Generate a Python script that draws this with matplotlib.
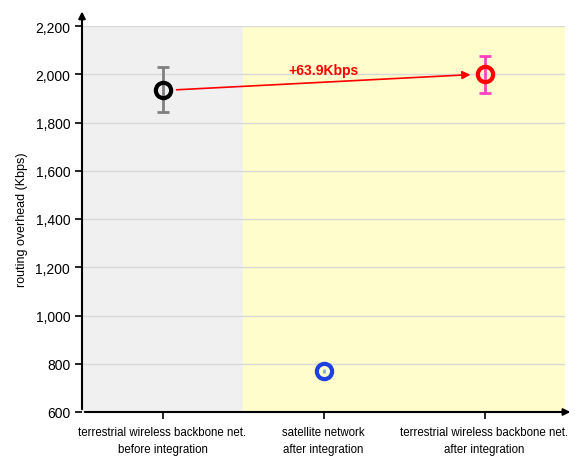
import matplotlib.pyplot as plt
from matplotlib.ticker import FuncFormatter

# data
categorias = ['terrestrial wireless backbone net.\nbefore integration',
              'satellite network\nafter integration',
              'terrestrial wireless backbone net.\nafter integration']
overhead = [1935, 770, 1999]
errores = [93, 8, 75]
colores_marca = ['black', '#1F3FE0', '#FF0000']
colores_error = ['#808080', '#7FA8F0', '#FF44BB']
diferencia = '+63.9Kbps'

plt.rcParams['font.family'] = ['Liberation Sans', 'DejaVu Sans']

fig = plt.figure(figsize=(5.87, 4.6), dpi=100)
ax = fig.add_axes([82 / 587, 47 / 460, (565 - 82) / 587, (413 - 27) / 460])

# fondos
ax.axvspan(-0.5, 0.5, color='#F0F0F0', zorder=0)
ax.axvspan(0.5, 2.5, color='#FFFDCC', zorder=0)

ax.set_xlim(-0.5, 2.5)
ax.set_ylim(600, 2200)
ax.set_yticks(range(600, 2201, 200))
ax.yaxis.set_major_formatter(FuncFormatter(lambda v, p: f'{int(v):,}'))
ax.grid(axis='y', color='#D9D9D9', linewidth=1, zorder=1)
ax.set_axisbelow(True)

for i in range(len(overhead)):
    # las barras muy cortas quedan dentro del circulo, sin tapas
    tapa = 4 if errores[i] > 20 else 0
    ax.errorbar(i, overhead[i], yerr=errores[i], fmt='none', ecolor=colores_error[i],
                elinewidth=2, capsize=tapa, capthick=2, zorder=3)
    ax.plot(i, overhead[i], 'o', markersize=11, markerfacecolor='none',
            markeredgecolor=colores_marca[i], markeredgewidth=3, zorder=4)

# flecha de diferencia
ax.annotate('', xy=(2 - 0.07, overhead[2]), xytext=(0 + 0.07, overhead[0]),
            arrowprops=dict(arrowstyle='-|>', color='red', lw=1.2, mutation_scale=12), zorder=5)
ax.text(1.0, (overhead[0] + overhead[2]) / 2 + 20, diferencia, color='red', fontweight='bold',
        fontsize=10, ha='center', va='bottom')

ax.set_xticks(range(len(categorias)))
ax.set_xticklabels(categorias, fontsize=8.3, linespacing=1.6)
ax.tick_params(axis='y', labelsize=10, direction='out', length=5, width=1.2)
ax.tick_params(axis='x', direction='out', length=5, width=1.2, pad=5)
ax.set_ylabel('routing overhead (Kbps)', fontsize=9, labelpad=5)

for lado in ['top', 'right', 'left', 'bottom']:
    ax.spines[lado].set_visible(False)

# ejes con flecha, un poco mas largos que el area
ax.annotate('', xy=(1.017, 0), xytext=(0, 0), xycoords='axes fraction',
            arrowprops=dict(arrowstyle='-|>', color='black', lw=1.5, mutation_scale=10))
ax.annotate('', xy=(0, 1.045), xytext=(0, 0), xycoords='axes fraction',
            arrowprops=dict(arrowstyle='-|>', color='black', lw=1.5, mutation_scale=10))

fig.savefig('out.png', dpi=100)
